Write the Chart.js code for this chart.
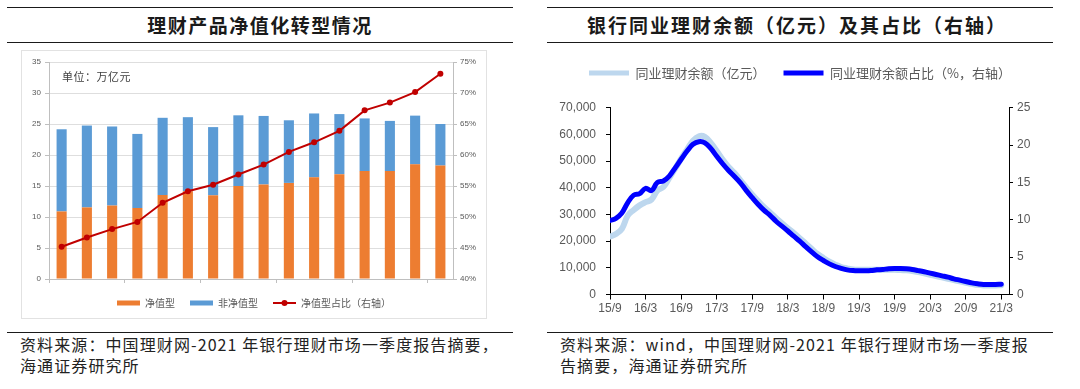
<!DOCTYPE html>
<html lang="zh-CN">
<head>
<meta charset="utf-8">
<title>理财产品净值化转型情况</title>
<script src="https://cdn.jsdelivr.net/npm/chart.js@4.4.1/dist/chart.umd.min.js"></script>
<style>
  html, body { margin: 0; padding: 0; background: #fff; }
  body {
    position: relative; width: 1080px; height: 389px; overflow: hidden;
    font-family: "Noto Sans CJK SC", "Liberation Sans", sans-serif; color: #1a1a1a;
  }
  .rule { position: absolute; height: 0; border-top: 1px solid #1a1a1a; }
  .title {
    position: absolute; top: 12px; line-height: 26px; font-size: 19px; font-weight: 700;
    letter-spacing: 1.5px; white-space: nowrap; transform: translateX(-50%);
  }
  .frame { position: absolute; left: 21px; top: 50px; width: 466px; height: 269px; border: 1px solid #e2e2e2; box-sizing: border-box; }
  .unit { position: absolute; left: 62px; top: 68px; font-size: 11px; color: #404040; letter-spacing: .5px; }
  .source { position: absolute; top: 334px; font-size: 16px; line-height: 21px; letter-spacing: 1.1px; white-space: nowrap; color: #222; }
  canvas { position: absolute; }
</style>
</head>
<body>

<div class="rule" style="left:7px; top:7px; width:506px;"></div>
<div class="title" style="left:260px;">理财产品净值化转型情况</div>
<div class="rule" style="left:7px; top:42px; width:506px;"></div>

<div class="rule" style="left:547px; top:7px; width:506px;"></div>
<div class="title" style="left:797px; letter-spacing:2px;">银行同业理财余额（亿元）及其占比（右轴）</div>
<div class="rule" style="left:547px; top:42px; width:506px;"></div>

<div class="frame"></div>
<canvas id="leftChart" width="464" height="267" style="left:22px; top:51px;"></canvas>
<div class="unit">单位：万亿元</div>

<canvas id="rightChart" width="506" height="275" style="left:547px; top:45px;"></canvas>

<div class="rule" style="left:7px; top:332px; width:506px;"></div>
<div class="rule" style="left:547px; top:332px; width:506px;"></div>
<div class="source" style="left:20px;">资料来源：中国理财网-2021 年银行理财市场一季度报告摘要，<br>海通证券研究所</div>
<div class="source" style="left:560px;">资料来源：wind，中国理财网-2021 年银行理财市场一季度报<br>告摘要，海通证券研究所</div>

<script>
// left chart: 万亿元 / %
const periods = ['201912', '202001', '202002', '202003', '202004', '202005', '202006', '202007',
                 '202008', '202009', '202010', '202011', '202012', '202101', '202102', '202103'];
const netValue = [10.9, 11.55, 11.85, 11.45, 13.55, 14.15, 13.5, 15.0, 15.25, 15.5, 16.4, 16.9, 17.4, 17.4, 18.5, 18.3];
const nonNetValue = [13.25, 13.2, 12.75, 11.95, 12.45, 11.95, 11.0, 11.4, 11.05, 10.1, 10.3, 9.7, 8.5, 8.1, 7.85, 6.7];
const netShare = [45.2, 46.7, 48.05, 49.2, 52.3, 54.15, 55.2, 56.85, 58.45, 60.5, 62.05, 63.9, 67.2, 68.45, 70.15, 73.1];

// right chart: monthly from 15/9, ticks every 6 months
const tickMonths = ['15/9', '16/3', '16/9', '17/3', '17/9', '18/3', '18/9', '19/3', '19/9', '20/3', '20/9', '21/3'];
const interbankBalance = [
  21700, 22700, 24600, 29600, 31700, 33400, 34600, 35600, 39000, 40300,
  43700, 47200, 50900, 54300, 57600, 59300, 59100, 56800, 53800, 50600,
  47800, 45500, 42800, 40000, 37400, 35000, 32700, 30700, 28700, 26700,
  24800, 23000, 21100, 19100, 17100, 15200, 13700, 12300, 11200, 10300,
  9800, 9400, 9300, 9300, 9300, 9300, 9300, 9300, 9300, 9150,
  9050, 8800, 8400, 7900, 7400, 6900, 6400, 5900, 5400, 4900,
  4400, 4000, 3600, 3400, 3400, 3400, 3500
];
const interbankShare = [
  9.9, 10.2, 10.9, 12.3, 13.3, 13.5, 14.2, 13.9, 15.0, 15.2,
  15.85, 16.95, 18.1, 19.2, 20.1, 20.45, 20.3, 19.55, 18.5, 17.5,
  16.6, 15.8, 14.95, 13.9, 12.95, 12.05, 11.25, 10.6, 9.8, 9.15,
  8.5, 7.8, 7.15, 6.4, 5.7, 5.05, 4.55, 4.1, 3.75, 3.5,
  3.3, 3.2, 3.17, 3.17, 3.2, 3.3, 3.35, 3.44, 3.48, 3.48,
  3.44, 3.35, 3.2, 3.04, 2.86, 2.68, 2.5, 2.32, 2.1, 1.92,
  1.74, 1.56, 1.43, 1.34, 1.34, 1.34, 1.38
];

const ORANGE = '#ED7D31', BLUE = '#5B9BD5', RED = '#C00000';
const LIGHT = '#BDD7EE', DARK = '#0000ff';
const AXIS_TEXT = '#595959';

Chart.defaults.font.family = '"Liberation Sans", Arial, "Noto Sans CJK SC", sans-serif';
Chart.defaults.color = AXIS_TEXT;

// adds empty space under the legend items
const legendSpacer = {
  id: 'legendSpacer',
  beforeInit(chart, args, opts) {
    const fit = chart.legend.fit;
    chart.legend.fit = function () {
      fit.call(this);
      this.height += opts.extra || 0;
    };
  }
};

// line + dot swatch for the ratio series
const legendMarker = {
  id: 'legendMarker',
  afterDraw(chart) {
    const legend = chart.legend;
    const i = legend.legendItems.findIndex(it => it.datasetIndex === 2);
    const box = legend.legendHitBoxes[i];
    if (!box) return;
    const ctx = chart.ctx;
    const y = box.top + box.height / 2;
    ctx.save();
    ctx.strokeStyle = RED;
    ctx.lineWidth = 2;
    ctx.beginPath();
    ctx.moveTo(box.left, y);
    ctx.lineTo(box.left + 23, y);
    ctx.stroke();
    ctx.fillStyle = RED;
    ctx.beginPath();
    ctx.arc(box.left + 11.5, y, 3, 0, Math.PI * 2);
    ctx.fill();
    ctx.restore();
  }
};

function flatLabels(chart, hideIndex) {
  const items = Chart.defaults.plugins.legend.labels.generateLabels(chart);
  items.forEach(it => {
    it.lineWidth = 0;
    it.strokeStyle = it.fillStyle;
    if (it.datasetIndex === hideIndex) it.fillStyle = 'rgba(0,0,0,0)';
  });
  return items;
}

new Chart(document.getElementById('leftChart'), {
  type: 'bar',
  data: {
    labels: periods,
    datasets: [
      { label: '净值型', data: netValue, backgroundColor: ORANGE, stack: 'aum', order: 2,
        barPercentage: 0.4, categoryPercentage: 1, yAxisID: 'y' },
      { label: '非净值型', data: nonNetValue, backgroundColor: BLUE, stack: 'aum', order: 2,
        barPercentage: 0.4, categoryPercentage: 1, yAxisID: 'y' },
      { type: 'line', label: '净值型占比（右轴）', data: netShare, yAxisID: 'y1', order: 1,
        borderColor: RED, backgroundColor: RED, borderWidth: 2, tension: 0,
        pointRadius: 3, pointBackgroundColor: RED, pointBorderWidth: 0 }
    ]
  },
  options: {
    responsive: false,
    animation: false,
    layout: { padding: { top: 11, left: 0, right: 0, bottom: 0 } },
    plugins: {
      legend: {
        position: 'bottom',
        labels: {
          boxWidth: 23, boxHeight: 5, padding: 15, color: AXIS_TEXT,
          font: { size: 10, family: '"Noto Sans CJK SC", sans-serif' },
          sort: (a, b) => a.datasetIndex - b.datasetIndex,
          generateLabels: chart => flatLabels(chart, 2)
        }
      },
      tooltip: { enabled: false }
    },
    scales: {
      x: {
        stacked: true,
        offset: true,
        border: { color: '#bfbfbf' },
        grid: {
          offset: true, drawOnChartArea: false, tickLength: 4,
          tickColor: ctx => (ctx.index % 3 === 0 ? '#bfbfbf' : 'rgba(0,0,0,0)')
        },
        ticks: {
          autoSkip: false, maxRotation: 0, padding: 1, color: AXIS_TEXT, font: { size: 8 },
          callback: (v, i) => (i % 3 === 0 ? periods[i] : '')
        },
        afterFit(s) { s.height = 4; }
      },
      y: {
        stacked: true, min: 0, max: 35,
        border: { color: '#bfbfbf' },
        grid: { color: '#dedede', tickLength: 4, tickColor: '#bfbfbf' },
        ticks: { stepSize: 5, padding: 4, color: AXIS_TEXT, font: { size: 8 } },
        afterFit(s) { s.width = 27; }
      },
      y1: {
        position: 'right', min: 40, max: 75,
        border: { color: '#bfbfbf' },
        grid: { drawOnChartArea: false, tickLength: 4, color: '#bfbfbf' },
        ticks: { stepSize: 5, padding: 3, color: AXIS_TEXT, font: { size: 8 }, callback: v => v + '%' },
        afterFit(s) { s.width = 33; }
      }
    }
  },
  plugins: [legendMarker]
});

new Chart(document.getElementById('rightChart'), {
  type: 'line',
  data: {
    datasets: [
      { label: '同业理财余额（亿元）', data: interbankBalance.map((v, i) => ({ x: i, y: v })),
        yAxisID: 'y', order: 2, borderColor: LIGHT, backgroundColor: LIGHT, borderWidth: 6,
        borderCapStyle: 'round', pointRadius: 0, tension: 0.4 },
      { label: '同业理财余额占比（%，右轴）', data: interbankShare.map((v, i) => ({ x: i, y: v })),
        yAxisID: 'y1', order: 1, borderColor: DARK, backgroundColor: DARK, borderWidth: 5,
        borderCapStyle: 'round', pointRadius: 0, tension: 0.4 }
    ]
  },
  options: {
    responsive: false,
    animation: false,
    layout: { padding: { top: 3.5, left: 0, right: 0, bottom: 0 } },
    plugins: {
      legend: {
        position: 'top',
        labels: {
          boxWidth: 40, boxHeight: 5, padding: 18, color: AXIS_TEXT,
          font: { size: 13, family: '"Noto Sans CJK SC", sans-serif' },
          sort: (a, b) => a.datasetIndex - b.datasetIndex,
          generateLabels: chart => flatLabels(chart, -1)
        }
      },
      legendSpacer: { extra: 18.2 },
      tooltip: { enabled: false }
    },
    scales: {
      x: {
        type: 'linear', min: 0, max: 67.3,
        afterBuildTicks(s) { s.ticks = tickMonths.map((_, i) => ({ value: i * 6 })); },
        border: { color: '#000' },
        grid: { drawOnChartArea: false, tickLength: 5, color: '#000' },
        ticks: { autoSkip: false, maxRotation: 0, padding: 2, color: AXIS_TEXT, font: { size: 12 },
                 callback: v => tickMonths[Math.round(v / 6)] },
        afterFit(s) { s.height = 25.5; }
      },
      y: {
        min: 0, max: 70000,
        border: { color: '#000' },
        grid: { drawOnChartArea: false, tickLength: 4, color: '#000' },
        ticks: { stepSize: 10000, padding: 10, color: AXIS_TEXT, font: { size: 12 },
                 callback: v => v.toLocaleString('en-US') },
        afterFit(s) { s.width = 63; }
      },
      y1: {
        position: 'right', min: 0, max: 25,
        border: { color: '#000' },
        grid: { drawOnChartArea: false, tickLength: 4, color: '#000' },
        ticks: { stepSize: 5, padding: 4, color: AXIS_TEXT, font: { size: 12 } },
        afterFit(s) { s.width = 44; }
      }
    }
  },
  plugins: [legendSpacer]
});
</script>
</body>
</html>
